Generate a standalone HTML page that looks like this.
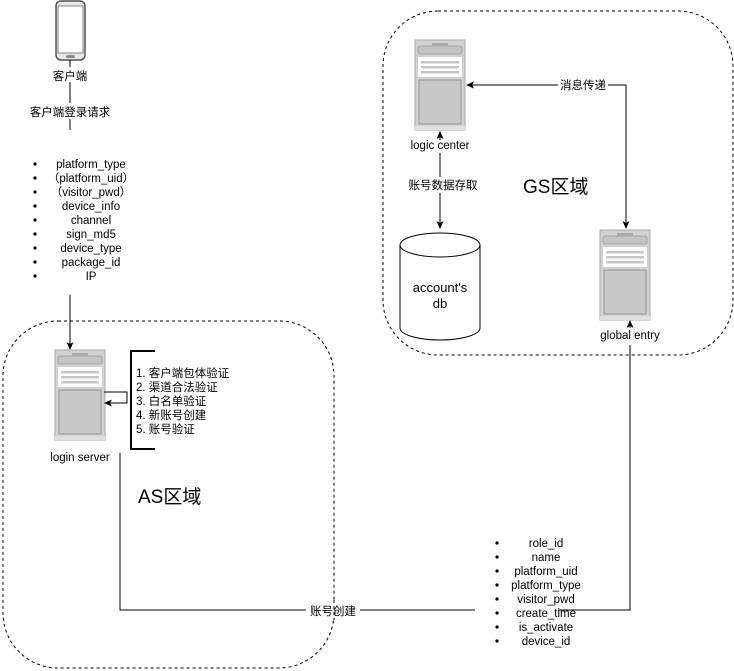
<!DOCTYPE html>
<html><head><meta charset="utf-8"><style>
html,body{margin:0;padding:0;background:#fff;}
svg{display:block;font-family:"Liberation Sans","Noto Sans CJK SC",sans-serif;}
</style></head><body>
<svg width="734" height="671" viewBox="0 0 734 671" xmlns="http://www.w3.org/2000/svg">
<defs>
<g id="srv">
<rect x="0" y="0" width="50" height="90" fill="#d2d2d2" stroke="#aaa" stroke-width="1"/>
<rect x="3" y="6" width="44" height="8" rx="2" fill="#c4c4c4" stroke="#999" stroke-width="0.8"/>
<rect x="17" y="3" width="16" height="3" fill="#aaa"/>
<rect x="3" y="17" width="44" height="20" fill="#fff"/>
<rect x="6" y="21" width="38" height="2.5" fill="#c8c8c8"/>
<rect x="6" y="26" width="38" height="2.5" fill="#c8c8c8"/>
<rect x="6" y="31" width="38" height="2.5" fill="#c8c8c8"/>
<rect x="4" y="40" width="42" height="44" fill="#c8c8c8" stroke="#888" stroke-width="0.8"/>
<rect x="0" y="86" width="50" height="4" fill="#e0e0e0"/>
</g>
<marker id="ar" markerWidth="8" markerHeight="8" refX="7" refY="4" orient="auto-start-reverse" markerUnits="userSpaceOnUse"><path d="M0,0.5 L8,4 L0,7.5 L2,4 Z" fill="#000"/></marker>
</defs>

<!-- regions -->
<rect x="3" y="321" width="331" height="347" rx="55" fill="none" stroke="#000" stroke-dasharray="3,3"/>
<rect x="383" y="11" width="350" height="344" rx="55" fill="none" stroke="#000" stroke-dasharray="3,3"/>

<!-- phone -->
<rect x="56" y="1" width="29" height="59" rx="5" fill="#e8e8e8" stroke="#555" stroke-width="1.5"/>
<rect x="58" y="6" width="25" height="47" fill="#fff" stroke="#666" stroke-width="0.8"/>
<rect x="66" y="55" width="9" height="3" rx="1.5" fill="#888"/>
<text x="70" y="80" font-size="11.5" text-anchor="middle">客户端</text>
<line x1="70" y1="60" x2="70" y2="67" stroke="#000"/>
<line x1="70" y1="82" x2="70" y2="130" stroke="#000"/>
<rect x="28" y="103" width="86" height="16" fill="#fff"/>
<text x="70" y="116" font-size="11.5" text-anchor="middle">客户端登录请求</text>

<!-- list 1 -->
<g font-size="11.5" text-anchor="middle">
<text x="91" y="168">platform_type</text>
<text x="91" y="182">（platform_uid）</text>
<text x="91" y="196">（visitor_pwd）</text>
<text x="91" y="210">device_info</text>
<text x="91" y="224">channel</text>
<text x="91" y="238">sign_md5</text>
<text x="91" y="252">device_type</text>
<text x="91" y="266">package_id</text>
<text x="91" y="280">IP</text>
</g>
<g fill="#000">
<circle cx="35" cy="164" r="1.6"/><circle cx="35" cy="178" r="1.6"/><circle cx="35" cy="192" r="1.6"/>
<circle cx="35" cy="206" r="1.6"/><circle cx="35" cy="220" r="1.6"/><circle cx="35" cy="234" r="1.6"/>
<circle cx="35" cy="248" r="1.6"/><circle cx="35" cy="262" r="1.6"/><circle cx="35" cy="276" r="1.6"/>
</g>
<line x1="70" y1="295" x2="70" y2="349" stroke="#000" marker-end="url(#ar)"/>

<!-- login server -->
<use href="#srv" x="55" y="350"/>
<text x="80" y="461" font-size="11.5" text-anchor="middle">login server</text>
<path d="M104,392 H127 V403 H105" fill="none" stroke="#000" marker-end="url(#ar)"/>
<path d="M155,351 H131 V449 H155" fill="none" stroke="#000" stroke-width="2"/>
<g font-size="11.5">
<text x="136" y="377">1. 客户端包体验证</text>
<text x="136" y="391">2. 渠道合法验证</text>
<text x="136" y="405">3. 白名单验证</text>
<text x="136" y="419">4. 新账号创建</text>
<text x="136" y="433">5. 账号验证</text>
</g>
<text x="138" y="503" font-size="19">AS区域</text>

<!-- bottom connector -->
<path d="M120,453 V610 H475" fill="none" stroke="#000"/>
<path d="M558,610 H630 V345" fill="none" stroke="#000"/>
<line x1="630" y1="328" x2="630" y2="321" stroke="#000" marker-end="url(#ar)"/>
<rect x="306" y="603" width="54" height="15" fill="#fff"/>
<line x1="334" y1="600" x2="334" y2="620" stroke="#000" stroke-dasharray="3,3"/>
<text x="333" y="615" font-size="11.5" text-anchor="middle">账号创建</text>

<!-- list 2 -->
<g font-size="11.5" text-anchor="middle">
<text x="546" y="547">role_id</text>
<text x="546" y="561">name</text>
<text x="546" y="575">platform_uid</text>
<text x="546" y="589">platform_type</text>
<text x="546" y="603">visitor_pwd</text>
<text x="546" y="617">create_time</text>
<text x="546" y="631">is_activate</text>
<text x="546" y="645">device_id</text>
</g>
<g fill="#000">
<circle cx="497" cy="543" r="1.6"/><circle cx="497" cy="557" r="1.6"/><circle cx="497" cy="571" r="1.6"/>
<circle cx="497" cy="585" r="1.6"/><circle cx="497" cy="599" r="1.6"/><circle cx="497" cy="613" r="1.6"/>
<circle cx="497" cy="627" r="1.6"/><circle cx="497" cy="641" r="1.6"/>
</g>

<!-- logic center -->
<use href="#srv" x="415" y="40"/>
<text x="440" y="149" font-size="11.5" text-anchor="middle">logic center</text>
<line x1="440" y1="153" x2="440" y2="228" stroke="#000" marker-end="url(#ar)"/>
<line x1="440" y1="140" x2="440" y2="132" stroke="#000" marker-end="url(#ar)"/>
<rect x="405" y="177" width="80" height="16" fill="#fff"/>
<text x="443" y="189" font-size="11.5" text-anchor="middle">账号数据存取</text>
<path d="M467,85 H626 V228" fill="none" stroke="#000" marker-start="url(#ar)" marker-end="url(#ar)"/>
<rect x="558" y="77" width="50" height="16" fill="#fff"/>
<text x="583" y="89" font-size="11.5" text-anchor="middle">消息传递</text>
<text x="523" y="193" font-size="19">GS区域</text>

<!-- db -->
<path d="M400,245 V328 A40,12 0 0 0 480,328 V245" fill="#fff" stroke="#000"/>
<ellipse cx="440" cy="245" rx="40" ry="12" fill="#fff" stroke="#000"/>
<text x="440" y="292" font-size="13" text-anchor="middle">account's</text>
<text x="440" y="308" font-size="13" text-anchor="middle">db</text>

<!-- global entry -->
<use href="#srv" x="600" y="230"/>
<text x="630" y="339" font-size="11.5" text-anchor="middle">global entry</text>
</svg>
</body></html>
